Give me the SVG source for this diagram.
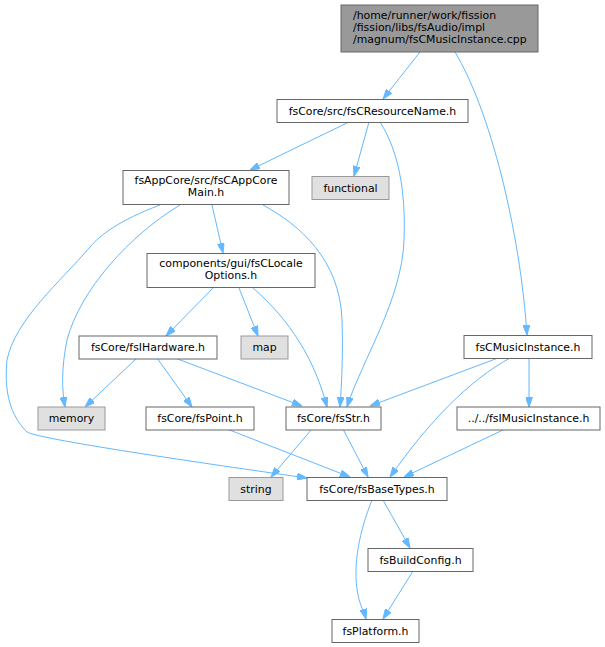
<svg xmlns="http://www.w3.org/2000/svg" width="605" height="647" viewBox="0 0 605 647">
<style>
text{font-family:"DejaVu Sans","Liberation Sans",sans-serif;font-size:10.9px;fill:#000}
.n rect{fill:#fff;stroke:#666;stroke-width:1}
.r rect{fill:#999;stroke:#666;stroke-width:1}
.x rect{fill:#e0e0e0;stroke:#999;stroke-width:1}
.c{text-anchor:middle}
#edges path{fill:none;stroke:#63b8ff;stroke-width:1;marker-end:url(#ah)}
</style>
<defs>
<marker id="ah" viewBox="0 0 10 7" refX="10" refY="3.5" markerWidth="10" markerHeight="7" markerUnits="userSpaceOnUse" orient="auto">
<path d="M0,0 L10,3.5 L0,7 z" fill="#63b8ff" stroke="#63b8ff" stroke-width="1"/>
</marker>
</defs>
<rect width="605" height="647" fill="#fff"/>
<g id="edges">
<path d="M420,52 L383,99"/>
<path d="M455,52 C490,110 520,230 527,335"/>
<path d="M349,122 L250,170"/>
<path d="M369,122 L354,176"/>
<path d="M380,122 C398,150 406,190 404,240 C402,300 362,360 347,407"/>
<path d="M212,205 L223,253"/>
<path d="M180,205 C130,235 80,290 67,340 C61,370 62,390 65,407"/>
<path d="M160,205 C120,220 100,235 90,247 C60,282 15,320 7,360 C3,400 15,420 27,432 C40,440 230,467 307,478"/>
<path d="M263,205 C300,225 340,260 342,320 C343,350 342,380 340,407"/>
<path d="M213,288 L166,336"/>
<path d="M239,288 L258,336"/>
<path d="M253,288 C290,320 315,360 327,407"/>
<path d="M137,358 L85,407"/>
<path d="M157,358 L192,407"/>
<path d="M175,358 L302,406"/>
<path d="M498,358 L370,406"/>
<path d="M510,358 C470,380 430,420 390,477"/>
<path d="M529,358 L529,407"/>
<path d="M227,429 L350,477"/>
<path d="M312,429 L271,477"/>
<path d="M343,429 L368,477"/>
<path d="M505,429 L404,477"/>
<path d="M383,500 L410,548"/>
<path d="M372,500 C360,530 352,565 358,595 C360,605 364,612 366,619"/>
<path d="M413,571 L383,619"/>
</g>
<g id="root" class="r"><rect x="341" y="5" width="197" height="47"/>
<text x="353" y="19">/home/runner/work/fission</text>
<text x="353" y="31">/fission/libs/fsAudio/impl</text>
<text x="353" y="43">/magnum/fsCMusicInstance.cpp</text></g>
<g id="resname" class="n"><rect x="277" y="99.5" width="191" height="23"/><text class="c" x="372.5" y="114.5">fsCore/src/fsCResourceName.h</text></g>
<g id="functional" class="x"><rect x="312" y="176.5" width="77" height="23"/><text class="c" x="350.5" y="191.5">functional</text></g>
<g id="appcore" class="n"><rect x="123" y="170.5" width="166" height="34"/><text class="c" x="206" y="184">fsAppCore/src/fsCAppCore</text><text class="c" x="206" y="196">Main.h</text></g>
<g id="locale" class="n"><rect x="147" y="253.5" width="168" height="34"/><text class="c" x="231" y="267">components/gui/fsCLocale</text><text class="c" x="231" y="279">Options.h</text></g>
<g id="hardware" class="n"><rect x="79" y="336" width="138" height="23"/><text class="c" x="148" y="351">fsCore/fsIHardware.h</text></g>
<g id="map" class="x"><rect x="241" y="336" width="47" height="23"/><text class="c" x="264.5" y="351">map</text></g>
<g id="musicinst" class="n"><rect x="464" y="335.5" width="128" height="23"/><text class="c" x="528" y="350.5">fsCMusicInstance.h</text></g>
<g id="memory" class="x"><rect x="38" y="407" width="67" height="23"/><text class="c" x="71.5" y="422">memory</text></g>
<g id="point" class="n"><rect x="146" y="407" width="108" height="23"/><text class="c" x="200" y="422">fsCore/fsPoint.h</text></g>
<g id="str" class="n"><rect x="286" y="407" width="95" height="23"/><text class="c" x="333.5" y="422">fsCore/fsStr.h</text></g>
<g id="imusic" class="n"><rect x="457" y="407" width="143" height="23"/><text class="c" x="528.5" y="422">../../fsIMusicInstance.h</text></g>
<g id="string" class="x"><rect x="229" y="477.5" width="54" height="23"/><text class="c" x="256" y="492.5">string</text></g>
<g id="basetypes" class="n"><rect x="307" y="477.5" width="140" height="23"/><text class="c" x="377" y="492.5">fsCore/fsBaseTypes.h</text></g>
<g id="buildconfig" class="n"><rect x="368" y="548.5" width="105" height="23"/><text class="c" x="420.5" y="563.5">fsBuildConfig.h</text></g>
<g id="platform" class="n"><rect x="332" y="619.5" width="87" height="23"/><text class="c" x="375.5" y="634.5">fsPlatform.h</text></g>
</svg>
